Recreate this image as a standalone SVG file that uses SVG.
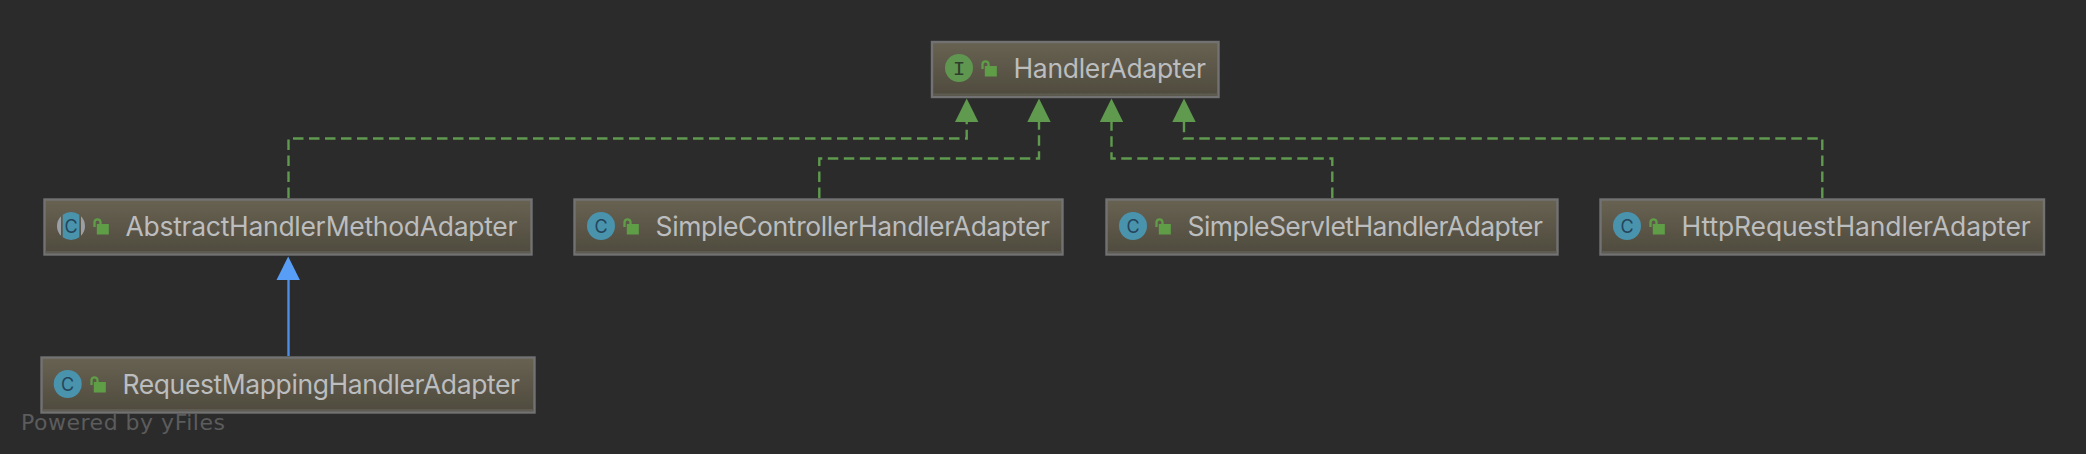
<svg xmlns="http://www.w3.org/2000/svg" width="2086" height="454" viewBox="0 0 2086 454">
<style>
.box{fill:url(#nodeFill);stroke:#727272;stroke-width:2.4}
.edge{fill:none;stroke:#5e5c52;stroke-width:2}
.t{font-family:Inter,"Liberation Sans",sans-serif;font-size:26.5px;fill:#bcbdbf}
.dash{fill:none;stroke:#5f9a4e;stroke-width:2.4;stroke-dasharray:10.5 5.5}
.solid{fill:none;stroke:#4d8fe6;stroke-width:2.4}
.hg{fill:#5f9a4e}
.hb{fill:#589df6}
.c{fill:#4a93ad}
.cl{font-family:Inter,"Liberation Sans",sans-serif;font-size:18px;fill:#24455b;text-anchor:middle}
.il{font-family:"Liberation Mono",monospace;font-size:21px;fill:#2f3d2c;text-anchor:middle}
.lockb{fill:#5f9e47}
.locks{fill:none;stroke:#5f9e47;stroke-width:2.3}
</style>
<defs>
<linearGradient id="nodeFill" x1="0" y1="0" x2="0" y2="1"><stop offset="0" stop-color="#686252"/><stop offset="1" stop-color="#4e4a3d"/></linearGradient>
<g id="lock"><rect x="3.3" y="3" width="12" height="10.5" class="lockb"/><path d="M1 6V1.3a3 3 0 0 1 6 0V3.5" class="locks"/></g>
</defs>
<rect width="2086" height="454" fill="#2b2b2b"/>
<g id="connectors">
<path class="dash" d="M288.5 198V138.5H966.7V122"/>
<path class="dash" d="M819.3 198V158.5H1039V122"/>
<path class="dash" d="M1332.3 198V158.5H1111.5V122"/>
<path class="dash" d="M1822.3 198V138.5H1184V122"/>
<path class="solid" d="M288.5 356V280"/>
<path class="hg" d="M966.7 98.5l11.7 23.5h-23.4z"/>
<path class="hg" d="M1039 98.5l11.7 23.5h-23.4z"/>
<path class="hg" d="M1111.5 98.5l11.7 23.5h-23.4z"/>
<path class="hg" d="M1184 98.5l11.7 23.5h-23.4z"/>
<path class="hb" d="M288.2 256.5l11.7 23.5h-23.4z"/>
</g>
<g id="HandlerAdapter">
<rect class="box" x="932" y="42" width="286.5" height="55"/>
<path class="edge" d="M933 94.5H1217.5"/>
<circle cx="959" cy="68" r="14" fill="#5f9650"/><text class="il" x="959" y="74.5">I</text>
<use href="#lock" x="981.5" y="63"/>
<text class="t" x="1013.5" y="78.3" textLength="192.5">HandlerAdapter</text>
</g>
<g id="AbstractHandlerMethodAdapter">
<rect class="box" x="44.5" y="199.5" width="487" height="55"/>
<path class="edge" d="M45.5 252H530.5"/>
<path d="M61 216.2A14 14 0 0 0 61 235.8ZM81 216.2A14 14 0 0 1 81 235.8Z" fill="#9aa0a6"/>
<path class="c" d="M62.7 214.7A14 14 0 0 1 79.3 214.7V237.3A14 14 0 0 1 62.7 237.3Z"/>
<text class="cl" x="71" y="232.5">C</text>
<use href="#lock" x="93.5" y="221"/>
<text class="t" x="125.5" y="236" textLength="392">AbstractHandlerMethodAdapter</text>
</g>
<g id="RequestMappingHandlerAdapter">
<rect class="box" x="41.5" y="357.5" width="493" height="55"/>
<path class="edge" d="M42.5 410H533.5"/>
<circle class="c" cx="67.7" cy="384" r="14"/><text class="cl" x="67.7" y="390.5">C</text>
<use href="#lock" x="90.5" y="379"/>
<text class="t" x="122.5" y="393.5" textLength="397.5">RequestMappingHandlerAdapter</text>
</g>
<g id="SimpleControllerHandlerAdapter">
<rect class="box" x="574.5" y="199.5" width="488" height="55"/>
<path class="edge" d="M575.5 252H1061.5"/>
<circle class="c" cx="601" cy="226" r="14"/><text class="cl" x="601" y="232.5">C</text>
<use href="#lock" x="623.5" y="221"/>
<text class="t" x="655.5" y="236" textLength="394.5">SimpleControllerHandlerAdapter</text>
</g>
<g id="SimpleServletHandlerAdapter">
<rect class="box" x="1106.5" y="199.5" width="451" height="55"/>
<path class="edge" d="M1107.5 252H1556.5"/>
<circle class="c" cx="1133" cy="226" r="14"/><text class="cl" x="1133" y="232.5">C</text>
<use href="#lock" x="1155.5" y="221"/>
<text class="t" x="1187.5" y="236" textLength="355.5">SimpleServletHandlerAdapter</text>
</g>
<g id="HttpRequestHandlerAdapter">
<rect class="box" x="1600.5" y="199.5" width="443.5" height="55"/>
<path class="edge" d="M1601.5 252H2043"/>
<circle class="c" cx="1627" cy="226" r="14"/><text class="cl" x="1627" y="232.5">C</text>
<use href="#lock" x="1649.5" y="221"/>
<text class="t" x="1681.5" y="236" textLength="349.2">HttpRequestHandlerAdapter</text>
</g>
<text x="21" y="430" font-family="DejaVu Sans,sans-serif" font-size="22" fill="#5c5c5c" textLength="204">Powered by yFiles</text>
</svg>
